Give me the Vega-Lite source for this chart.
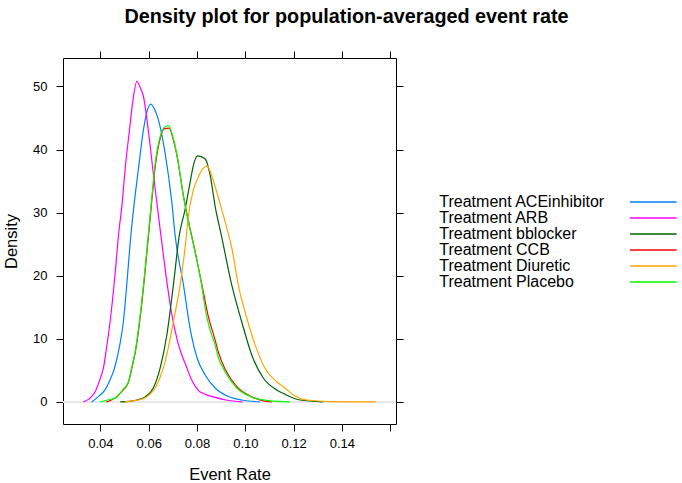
{
  "$schema": "https://vega.github.io/schema/vega-lite/v6.json",
  "width": 333,
  "height": 366,
  "autosize": {"type": "none"},
  "padding": {"left": 63, "top": 58, "right": 286, "bottom": 59},
  "background": "white",
  "title": {"text": "Density plot for population-averaged event rate", "font": "Liberation Sans", "fontSize": 19.8, "fontWeight": "bold", "color": "#000000", "anchor": "middle", "dx": 117, "offset": 24},
  "config": {
    "view": {"stroke": "#000000", "strokeWidth": 1},
    "axis": {"grid": false, "domain": false, "tickColor": "#000000", "tickSize": 7, "labelFont": "Liberation Sans", "labelFontSize": 13, "labelColor": "#000000", "titleFont": "Liberation Sans", "titleFontSize": 16.5, "titleFontWeight": "normal", "titleColor": "#000000"}
  },
  "data": {"values": [
    {"g": "Treatment ACEinhibitor", "x": 0.0364, "y": 0}, {"g": "Treatment ACEinhibitor", "x": 0.039, "y": 0.8}, {"g": "Treatment ACEinhibitor", "x": 0.0419, "y": 1.9}, {"g": "Treatment ACEinhibitor", "x": 0.044, "y": 3.5}, {"g": "Treatment ACEinhibitor", "x": 0.0458, "y": 5.3}, {"g": "Treatment ACEinhibitor", "x": 0.048, "y": 9}, {"g": "Treatment ACEinhibitor", "x": 0.0495, "y": 12.7}, {"g": "Treatment ACEinhibitor", "x": 0.051, "y": 19}, {"g": "Treatment ACEinhibitor", "x": 0.0525, "y": 26}, {"g": "Treatment ACEinhibitor", "x": 0.054, "y": 31.5}, {"g": "Treatment ACEinhibitor", "x": 0.0557, "y": 36.8}, {"g": "Treatment ACEinhibitor", "x": 0.0578, "y": 43.1}, {"g": "Treatment ACEinhibitor", "x": 0.0595, "y": 46.3}, {"g": "Treatment ACEinhibitor", "x": 0.0609, "y": 47.2}, {"g": "Treatment ACEinhibitor", "x": 0.0625, "y": 46.3}, {"g": "Treatment ACEinhibitor", "x": 0.064, "y": 44.7}, {"g": "Treatment ACEinhibitor", "x": 0.0668, "y": 39.4}, {"g": "Treatment ACEinhibitor", "x": 0.0696, "y": 31.5}, {"g": "Treatment ACEinhibitor", "x": 0.0709, "y": 26.5}, {"g": "Treatment ACEinhibitor", "x": 0.0744, "y": 18.5}, {"g": "Treatment ACEinhibitor", "x": 0.0771, "y": 11.7}, {"g": "Treatment ACEinhibitor", "x": 0.08, "y": 7}, {"g": "Treatment ACEinhibitor", "x": 0.0833, "y": 4.3}, {"g": "Treatment ACEinhibitor", "x": 0.0875, "y": 2.2}, {"g": "Treatment ACEinhibitor", "x": 0.093, "y": 0.85}, {"g": "Treatment ACEinhibitor", "x": 0.0985, "y": 0.3}, {"g": "Treatment ACEinhibitor", "x": 0.106, "y": 0},
    {"g": "Treatment ARB", "x": 0.033, "y": 0}, {"g": "Treatment ARB", "x": 0.035, "y": 0.4}, {"g": "Treatment ARB", "x": 0.0378, "y": 1.6}, {"g": "Treatment ARB", "x": 0.04, "y": 3.8}, {"g": "Treatment ARB", "x": 0.0412, "y": 5.3}, {"g": "Treatment ARB", "x": 0.0425, "y": 8.5}, {"g": "Treatment ARB", "x": 0.044, "y": 12.7}, {"g": "Treatment ARB", "x": 0.046, "y": 20}, {"g": "Treatment ARB", "x": 0.0475, "y": 26.5}, {"g": "Treatment ARB", "x": 0.049, "y": 31.5}, {"g": "Treatment ARB", "x": 0.0502, "y": 36.8}, {"g": "Treatment ARB", "x": 0.052, "y": 43}, {"g": "Treatment ARB", "x": 0.0533, "y": 47.3}, {"g": "Treatment ARB", "x": 0.0551, "y": 50.8}, {"g": "Treatment ARB", "x": 0.0565, "y": 49.8}, {"g": "Treatment ARB", "x": 0.0578, "y": 48.4}, {"g": "Treatment ARB", "x": 0.06, "y": 42.5}, {"g": "Treatment ARB", "x": 0.0622, "y": 35.2}, {"g": "Treatment ARB", "x": 0.065, "y": 26.5}, {"g": "Treatment ARB", "x": 0.067, "y": 20.5}, {"g": "Treatment ARB", "x": 0.0696, "y": 13.8}, {"g": "Treatment ARB", "x": 0.072, "y": 9.5}, {"g": "Treatment ARB", "x": 0.0758, "y": 5.4}, {"g": "Treatment ARB", "x": 0.078, "y": 3.3}, {"g": "Treatment ARB", "x": 0.0806, "y": 1.8}, {"g": "Treatment ARB", "x": 0.0835, "y": 1.2}, {"g": "Treatment ARB", "x": 0.0868, "y": 0.8}, {"g": "Treatment ARB", "x": 0.092, "y": 0.3}, {"g": "Treatment ARB", "x": 0.0988, "y": 0},
    {"g": "Treatment bblocker", "x": 0.0482, "y": 0}, {"g": "Treatment bblocker", "x": 0.052, "y": 0.1}, {"g": "Treatment bblocker", "x": 0.055, "y": 0.3}, {"g": "Treatment bblocker", "x": 0.0585, "y": 0.8}, {"g": "Treatment bblocker", "x": 0.0619, "y": 2.2}, {"g": "Treatment bblocker", "x": 0.0647, "y": 5.3}, {"g": "Treatment bblocker", "x": 0.0675, "y": 10.6}, {"g": "Treatment bblocker", "x": 0.0702, "y": 18.5}, {"g": "Treatment bblocker", "x": 0.0727, "y": 26.5}, {"g": "Treatment bblocker", "x": 0.075, "y": 30.4}, {"g": "Treatment bblocker", "x": 0.0771, "y": 34.7}, {"g": "Treatment bblocker", "x": 0.0785, "y": 37.5}, {"g": "Treatment bblocker", "x": 0.0802, "y": 39}, {"g": "Treatment bblocker", "x": 0.0834, "y": 38.5}, {"g": "Treatment bblocker", "x": 0.0854, "y": 36}, {"g": "Treatment bblocker", "x": 0.0875, "y": 31}, {"g": "Treatment bblocker", "x": 0.0903, "y": 26}, {"g": "Treatment bblocker", "x": 0.0944, "y": 18.5}, {"g": "Treatment bblocker", "x": 0.0985, "y": 12.7}, {"g": "Treatment bblocker", "x": 0.1027, "y": 7.4}, {"g": "Treatment bblocker", "x": 0.1075, "y": 3.75}, {"g": "Treatment bblocker", "x": 0.113, "y": 1.9}, {"g": "Treatment bblocker", "x": 0.1165, "y": 1.2}, {"g": "Treatment bblocker", "x": 0.1227, "y": 0.3}, {"g": "Treatment bblocker", "x": 0.1323, "y": 0},
    {"g": "Treatment CCB", "x": 0.0425, "y": 0}, {"g": "Treatment CCB", "x": 0.046, "y": 0.6}, {"g": "Treatment CCB", "x": 0.049, "y": 1.7}, {"g": "Treatment CCB", "x": 0.0516, "y": 3.1}, {"g": "Treatment CCB", "x": 0.053, "y": 5.3}, {"g": "Treatment CCB", "x": 0.0544, "y": 7.8}, {"g": "Treatment CCB", "x": 0.0571, "y": 15.5}, {"g": "Treatment CCB", "x": 0.0597, "y": 25.5}, {"g": "Treatment CCB", "x": 0.0613, "y": 32}, {"g": "Treatment CCB", "x": 0.0627, "y": 37.3}, {"g": "Treatment CCB", "x": 0.0647, "y": 41.7}, {"g": "Treatment CCB", "x": 0.0665, "y": 43.3}, {"g": "Treatment CCB", "x": 0.0685, "y": 43.4}, {"g": "Treatment CCB", "x": 0.07, "y": 41.8}, {"g": "Treatment CCB", "x": 0.0716, "y": 39.2}, {"g": "Treatment CCB", "x": 0.0744, "y": 32.6}, {"g": "Treatment CCB", "x": 0.0771, "y": 27.5}, {"g": "Treatment CCB", "x": 0.078, "y": 26}, {"g": "Treatment CCB", "x": 0.082, "y": 18.6}, {"g": "Treatment CCB", "x": 0.0847, "y": 13.5}, {"g": "Treatment CCB", "x": 0.0875, "y": 9.8}, {"g": "Treatment CCB", "x": 0.0889, "y": 7.8}, {"g": "Treatment CCB", "x": 0.0916, "y": 5.2}, {"g": "Treatment CCB", "x": 0.0965, "y": 2.4}, {"g": "Treatment CCB", "x": 0.1027, "y": 0.8}, {"g": "Treatment CCB", "x": 0.107, "y": 0.2}, {"g": "Treatment CCB", "x": 0.111, "y": 0},
    {"g": "Treatment Diuretic", "x": 0.0502, "y": 0}, {"g": "Treatment Diuretic", "x": 0.054, "y": 0.2}, {"g": "Treatment Diuretic", "x": 0.0578, "y": 0.5}, {"g": "Treatment Diuretic", "x": 0.0605, "y": 1.2}, {"g": "Treatment Diuretic", "x": 0.0627, "y": 2.2}, {"g": "Treatment Diuretic", "x": 0.0648, "y": 4}, {"g": "Treatment Diuretic", "x": 0.0668, "y": 6.4}, {"g": "Treatment Diuretic", "x": 0.0685, "y": 9.3}, {"g": "Treatment Diuretic", "x": 0.0702, "y": 12.7}, {"g": "Treatment Diuretic", "x": 0.073, "y": 18.5}, {"g": "Treatment Diuretic", "x": 0.0755, "y": 26}, {"g": "Treatment Diuretic", "x": 0.0764, "y": 29.4}, {"g": "Treatment Diuretic", "x": 0.0785, "y": 33.6}, {"g": "Treatment Diuretic", "x": 0.0806, "y": 35.7}, {"g": "Treatment Diuretic", "x": 0.0825, "y": 37}, {"g": "Treatment Diuretic", "x": 0.0841, "y": 37.4}, {"g": "Treatment Diuretic", "x": 0.0855, "y": 36.5}, {"g": "Treatment Diuretic", "x": 0.0875, "y": 34.1}, {"g": "Treatment Diuretic", "x": 0.0903, "y": 30.4}, {"g": "Treatment Diuretic", "x": 0.093, "y": 26.6}, {"g": "Treatment Diuretic", "x": 0.0944, "y": 24.4}, {"g": "Treatment Diuretic", "x": 0.0971, "y": 18.5}, {"g": "Treatment Diuretic", "x": 0.1006, "y": 13.3}, {"g": "Treatment Diuretic", "x": 0.1041, "y": 9}, {"g": "Treatment Diuretic", "x": 0.1082, "y": 5.3}, {"g": "Treatment Diuretic", "x": 0.113, "y": 3.2}, {"g": "Treatment Diuretic", "x": 0.1165, "y": 2.2}, {"g": "Treatment Diuretic", "x": 0.1199, "y": 1.1}, {"g": "Treatment Diuretic", "x": 0.1255, "y": 0.3}, {"g": "Treatment Diuretic", "x": 0.135, "y": 0.05}, {"g": "Treatment Diuretic", "x": 0.154, "y": 0},
    {"g": "Treatment Placebo", "x": 0.04, "y": 0}, {"g": "Treatment Placebo", "x": 0.043, "y": 0.3}, {"g": "Treatment Placebo", "x": 0.0461, "y": 0.6}, {"g": "Treatment Placebo", "x": 0.049, "y": 1.8}, {"g": "Treatment Placebo", "x": 0.0516, "y": 3.2}, {"g": "Treatment Placebo", "x": 0.053, "y": 5.5}, {"g": "Treatment Placebo", "x": 0.0544, "y": 8}, {"g": "Treatment Placebo", "x": 0.0571, "y": 15.9}, {"g": "Treatment Placebo", "x": 0.0597, "y": 26}, {"g": "Treatment Placebo", "x": 0.0613, "y": 32.5}, {"g": "Treatment Placebo", "x": 0.0627, "y": 37.8}, {"g": "Treatment Placebo", "x": 0.0647, "y": 42}, {"g": "Treatment Placebo", "x": 0.0665, "y": 43.5}, {"g": "Treatment Placebo", "x": 0.0682, "y": 43.8}, {"g": "Treatment Placebo", "x": 0.07, "y": 42}, {"g": "Treatment Placebo", "x": 0.0716, "y": 39.4}, {"g": "Treatment Placebo", "x": 0.0744, "y": 32.5}, {"g": "Treatment Placebo", "x": 0.0771, "y": 27.3}, {"g": "Treatment Placebo", "x": 0.078, "y": 25.8}, {"g": "Treatment Placebo", "x": 0.082, "y": 18.3}, {"g": "Treatment Placebo", "x": 0.0833, "y": 15}, {"g": "Treatment Placebo", "x": 0.0847, "y": 12.4}, {"g": "Treatment Placebo", "x": 0.0875, "y": 9}, {"g": "Treatment Placebo", "x": 0.0889, "y": 7}, {"g": "Treatment Placebo", "x": 0.0916, "y": 4.8}, {"g": "Treatment Placebo", "x": 0.0965, "y": 2.2}, {"g": "Treatment Placebo", "x": 0.1027, "y": 0.75}, {"g": "Treatment Placebo", "x": 0.1096, "y": 0.2}, {"g": "Treatment Placebo", "x": 0.1185, "y": 0}
  ]},
  "layer": [
    {
      "mark": {"type": "rule", "color": "#e6e6e6", "strokeWidth": 1},
      "encoding": {"y": {"datum": 0, "type": "quantitative", "axis": null}}
    },
    {
      "mark": {"type": "line", "strokeWidth": 1.2, "interpolate": "monotone"},
      "encoding": {
        "x": {"field": "x", "type": "quantitative", "scale": {"domain": [0.0245, 0.1624], "nice": false, "zero": false},
              "axis": {"orient": "bottom", "values": [0.04, 0.06, 0.08, 0.1, 0.12, 0.14, 0.16], "labelExpr": "datum.value > 0.15 ? '' : format(datum.value, '.2f')", "labelPadding": 6, "title": "Event Rate", "titlePadding": 16}},
        "y": {"field": "y", "type": "quantitative", "scale": {"domain": [-3.5, 54.5], "nice": false, "zero": false},
              "axis": {"orient": "left", "values": [0, 10, 20, 30, 40, 50], "labelPadding": 9, "title": "Density", "titlePadding": 13}},
        "color": {"field": "g", "type": "nominal",
                  "scale": {"domain": ["Treatment ACEinhibitor", "Treatment ARB", "Treatment bblocker", "Treatment CCB", "Treatment Diuretic", "Treatment Placebo"], "range": ["#0080ff", "#ff00ff", "#006400", "#ff0000", "#ffa500", "#00ff00"]},
                  "legend": {"orient": "none", "legendX": 582.3, "legendY": 136, "title": null, "symbolType": "M-6,0H6", "symbolSize": 60.5, "symbolStrokeWidth": 1.5, "labelOffset": -222, "labelFont": "Liberation Sans", "labelFontSize": 16, "labelColor": "#000000", "labelLimit": 400, "rowPadding": 0, "padding": 0}}
      }
    },
    {
      "mark": {"type": "point", "opacity": 0},
      "encoding": {
        "x": {"field": "x", "type": "quantitative", "axis": {"orient": "top", "values": [0.04, 0.06, 0.08, 0.1, 0.12, 0.14, 0.16], "labels": false, "title": null}},
        "y": {"field": "y", "type": "quantitative", "axis": {"orient": "right", "values": [0, 10, 20, 30, 40, 50], "labels": false, "title": null}}
      }
    }
  ],
  "resolve": {"axis": {"x": "independent", "y": "independent"}}
}
